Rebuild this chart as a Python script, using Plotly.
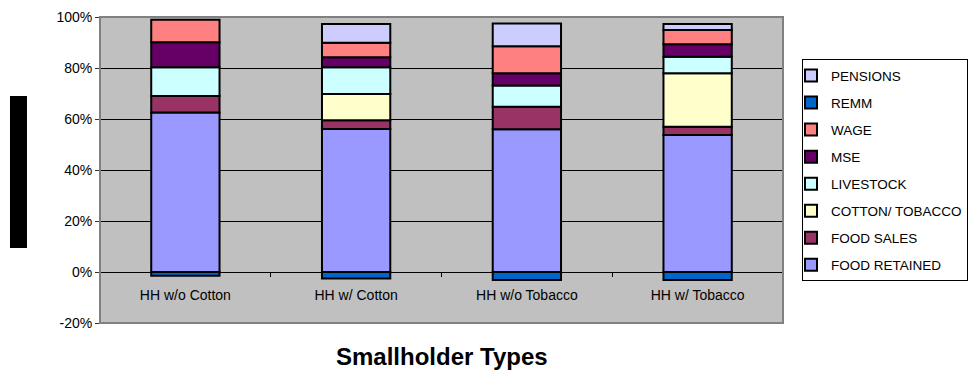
import plotly.graph_objects as go

categories = ["HH w/o Cotton", "HH w/ Cotton", "HH w/o Tobacco", "HH w/ Tobacco"]

food_retained = [62.5, 56.1, 56.0, 53.7]
food_sales = [6.5, 3.4, 8.8, 3.3]
cotton_tobacco = [None, 10.3, None, 20.9]
livestock = [11.3, 10.5, 8.3, 6.5]
mse = [9.8, 3.9, 4.8, 4.9]
wage = [8.8, 5.7, 10.6, 5.6]
remm = [-1.5, -2.5, -3.1, -3.1]
pensions = [None, 7.4, 9.0, 2.4]

series = [
    ("FOOD RETAINED", food_retained, "#9999FF"),
    ("FOOD SALES", food_sales, "#993366"),
    ("COTTON/ TOBACCO", cotton_tobacco, "#FFFFCC"),
    ("LIVESTOCK", livestock, "#CCFFFF"),
    ("MSE", mse, "#660066"),
    ("WAGE", wage, "#FF8080"),
    ("REMM", remm, "#0066CC"),
    ("PENSIONS", pensions, "#CCCCFF"),
]

y_tick_vals = [-20, 0, 20, 40, 60, 80, 100]
y_tick_text = ["-20%", "0%", "20%", "40%", "60%", "80%", "100%"]

FONT = "Liberation Sans, Arial, sans-serif"

fig = go.Figure()
n = len(series)
for i, (name, vals, color) in enumerate(series):
    fig.add_trace(go.Bar(
        x=categories, y=vals, name=name, width=0.4,
        marker=dict(color=color, line=dict(color="black", width=2)),
        legendgroup=f"g{i}", legendrank=100 * (n - i),
    ))

fig.update_layout(
    width=968, height=376,
    margin=dict(l=100, r=185, t=17, b=53, pad=0, autoexpand=False),
    barmode="relative",
    paper_bgcolor="white",
    plot_bgcolor="#C0C0C0",
    font=dict(family=FONT, size=14, color="black"),
    showlegend=True,
    legend=dict(
        traceorder="grouped", tracegroupgap=6.5,
        x=1.0278, xanchor="left", y=0.862, yanchor="top",
        bordercolor="black", borderwidth=1, bgcolor="white",
        font=dict(family=FONT, size=13.5, color="black"),
        indentation=-12, itemwidth=30,
    ),
    xaxis=dict(
        type="category", anchor="free", position=20 / 120,
        showline=True, linecolor="black", linewidth=1,
        ticks="outside", ticklen=4, tickcolor="black", tickson="boundaries",
        showgrid=False, ticklabelstandoff=10,
        tickfont=dict(family=FONT, size=14, color="black"),
    ),
    yaxis=dict(
        range=[-20, 100], tickvals=y_tick_vals, ticktext=y_tick_text,
        showgrid=True, gridcolor="black", gridwidth=1,
        zeroline=True, zerolinecolor="black", zerolinewidth=1,
        showline=True, linecolor="#333333", linewidth=1,
        ticks="outside", ticklen=4, tickcolor="#333333",
        tickfont=dict(family=FONT, size=14, color="black"),
    ),
    shapes=[
        dict(type="rect", xref="paper", yref="paper", x0=0, x1=1, y0=0, y1=1,
             line=dict(color="#808080", width=2), fillcolor="rgba(0,0,0,0)", layer="above"),
        dict(type="rect", xref="paper", yref="paper", x0=-0.1318, x1=-0.1069,
             y0=0.245, y1=0.742, line=dict(width=0), fillcolor="black"),
    ],
    annotations=[
        dict(text="<b>Smallholder Types</b>", xref="paper", yref="paper",
             x=0.5, y=-0.111, xanchor="center", yanchor="middle", showarrow=False,
             font=dict(family=FONT, size=24, color="black")),
    ],
)

fig.write_html("out.html", config={"displayModeBar": False},
               post_script="document.body.style.margin='0';document.body.style.overflow='hidden';")
